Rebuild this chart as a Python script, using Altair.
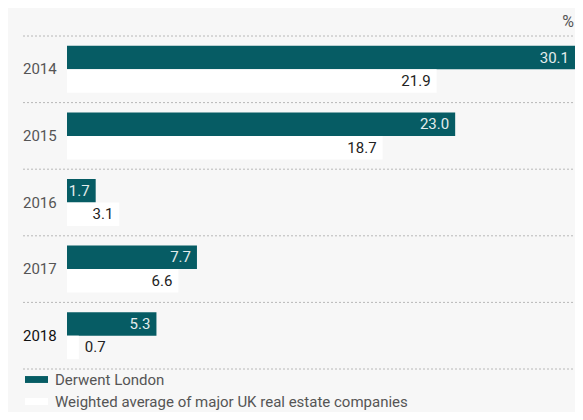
import altair as alt
import pandas as pd

years = ["2014", "2015", "2016", "2017", "2018"]
derwent = [30.1, 23.0, 1.7, 7.7, 5.3]
weighted = [21.9, 18.7, 3.1, 6.6, 0.7]
series = ["Derwent London", "Weighted average of major UK real estate companies"]
colors = ["#065c64", "#ffffff"]
unit = ["%"]

rows = []
for y, d, w in zip(years, derwent, weighted):
    rows.append({"year": y, "series": series[0], "value": d})
    rows.append({"year": y, "series": series[1], "value": w})
df = pd.DataFrame(rows)
ydf = pd.DataFrame({"year": years})
udf = pd.DataFrame({"unit": unit})

FONT = "Roboto"
W, H = 567, 404
xscale = alt.Scale(domain=[0, 30.1], range=[59, W], nice=False, zero=True)
yscale = alt.Scale(domain=years, range=[28, 361], paddingInner=0, paddingOuter=0)
offscale = alt.Scale(domain=series, paddingInner=0, paddingOuter=0.417)

base = alt.Chart(df)

bars = base.mark_bar(cornerRadius=0).encode(
    x=alt.X("value:Q", scale=xscale, axis=None),
    y=alt.Y("year:N", scale=yscale, axis=None, sort=years),
    yOffset=alt.YOffset("series:N", scale=offscale, sort=series),
    color=alt.Color("series:N", scale=alt.Scale(domain=series, range=colors),
                    legend=alt.Legend(orient="none", legendX=17, legendY=360, title=None,
                                      symbolType="M-1,-0.3H1V0.3H-1Z", symbolSize=529,
                                      symbolStrokeWidth=0, labelFont=FONT, labelFontSize=15,
                                      labelColor="#555", labelOffset=7, rowPadding=2,
                                      labelLimit=600, padding=0)),
)

labels_in = base.transform_filter(alt.datum.value >= 1).mark_text(
    align="right", baseline="middle", dx=-6, font=FONT, fontSize=15
).encode(
    x=alt.X("value:Q", scale=xscale, axis=None),
    y=alt.Y("year:N", scale=yscale, axis=None, sort=years),
    yOffset=alt.YOffset("series:N", scale=offscale, sort=series),
    text=alt.Text("value:Q", format=".1f"),
    color=alt.condition(alt.datum.series == series[0], alt.value("#e3ecec"), alt.value("#222222")),
)

labels_out = base.transform_filter(alt.datum.value < 1).mark_text(
    align="left", baseline="middle", dx=6, font=FONT, fontSize=15, color="#222222"
).encode(
    x=alt.X("value:Q", scale=xscale, axis=None),
    y=alt.Y("year:N", scale=yscale, axis=None, sort=years),
    yOffset=alt.YOffset("series:N", scale=offscale, sort=series),
    text=alt.Text("value:Q", format=".1f"),
)

ybase = alt.Chart(ydf)

grid_top = ybase.mark_rule(color="#b8b8b8", strokeDash=[2, 2], strokeWidth=1).encode(
    y=alt.Y("year:N", scale=yscale, axis=None, sort=years, bandPosition=0),
    x=alt.value(15), x2=alt.value(W),
)
grid_bottom = ybase.transform_filter(alt.datum.year == years[-1]).mark_rule(
    color="#b8b8b8", strokeDash=[2, 2], strokeWidth=1
).encode(
    y=alt.Y("year:N", scale=yscale, axis=None, sort=years, bandPosition=1),
    x=alt.value(15), x2=alt.value(W),
)

year_labels = ybase.mark_text(align="left", baseline="middle", font=FONT, fontSize=15).encode(
    y=alt.Y("year:N", scale=yscale, axis=None, sort=years),
    x=alt.value(15),
    text="year:N",
    color=alt.condition(alt.datum.year == years[-1], alt.value("#111111"), alt.value("#555555")),
)

unit_label = alt.Chart(udf).mark_text(
    align="right", baseline="alphabetic", font=FONT, fontSize=16, color="#555555"
).encode(text="unit:N", x=alt.value(W - 1), y=alt.value(19))

chart = alt.layer(grid_top, grid_bottom, bars, labels_in, labels_out, year_labels, unit_label).properties(
    width=W, height=H, autosize=alt.AutoSizeParams(type="none"), padding=0,
    background="#f7f7f7",
).configure_view(stroke=None)

chart.save("out.html", embed_options={"renderer": "svg", "actions": False})
